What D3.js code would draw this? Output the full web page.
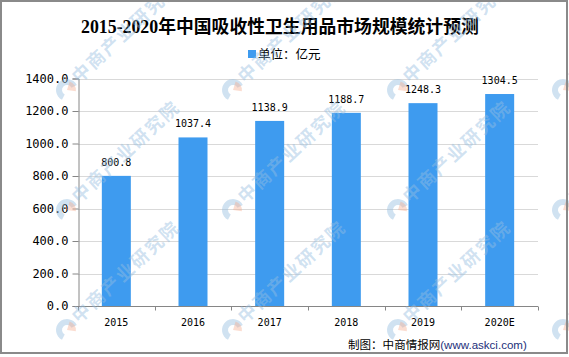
<!DOCTYPE html>
<html><head><meta charset="utf-8">
<script src="https://cdn.jsdelivr.net/npm/d3@7"></script>
<style>html,body{margin:0;padding:0;background:#fff;}svg{display:block;}</style>
</head><body>
<svg id="chart" width="569" height="357"></svg>
<script>
const categories = ["2015", "2016", "2017", "2018", "2019", "2020E"];
const values = [800.8, 1037.4, 1138.9, 1188.7, 1248.3, 1304.5];
const yTicks = [0, 200, 400, 600, 800, 1000, 1200, 1400];
const titleYears = "2015-2020";
const titleRest = "年中国吸收性卫生用品市场规模统计预测";
const legendText = "单位：亿元";
const sourceLabel = "制图：中商情报网";
const sourceUrl = "(www.askci.com)";
const watermarkText = "中商产业研究院";

const svg = d3.select("#chart");
const W = 569, H = 357;
const barColor = "#3E9BEF";

svg.append("rect").attr("x", 0).attr("y", 0).attr("width", W).attr("height", H).attr("fill", "#fff");

const x = d3.scaleBand().domain(categories).range([78, 538]).padding(0);
const y = d3.scaleLinear().domain([0, 1400]).range([306, 78.5]);

// gridlines
svg.append("g").selectAll("line").data(yTicks.filter(d => d > 0)).join("line")
  .attr("x1", 78).attr("x2", 538)
  .attr("y1", d => Math.round(y(d)) + 0.5).attr("y2", d => Math.round(y(d)) + 0.5)
  .attr("stroke", "#d9d9d9").attr("stroke-width", 1);

// bars
const bw = 29;
svg.append("g").selectAll("rect").data(values).join("rect")
  .attr("x", (d, i) => x(categories[i]) + x.bandwidth() / 2 - bw / 2)
  .attr("y", d => y(d))
  .attr("width", bw)
  .attr("height", d => y(0) - y(d))
  .attr("fill", barColor);

// value labels
svg.append("g").selectAll("text").data(values).join("text")
  .attr("x", (d, i) => x(categories[i]) + x.bandwidth() / 2)
  .attr("y", d => y(d) - 10)
  .attr("text-anchor", "middle")
  .attr("font-family", "'DejaVu Sans Mono', monospace")
  .attr("font-size", 10)
  .attr("fill", "#000")
  .text(d => d.toFixed(1));

// y axis
const yAxis = d3.axisLeft(y).tickValues(yTicks).tickSize(6).tickPadding(4).tickFormat(d => d.toFixed(1));
const gy = svg.append("g").attr("transform", "translate(78.5,0)").call(yAxis);
gy.select(".domain").attr("stroke", "#868686");
gy.selectAll(".tick line").attr("stroke", "#868686");
gy.selectAll(".tick text").attr("font-family", "'DejaVu Sans Mono', monospace").attr("font-size", 12).attr("fill", "#000");

// x axis
const xAxis = d3.axisBottom(x).tickSize(0).tickPadding(12);
const gx = svg.append("g").attr("transform", "translate(0,306.5)").call(xAxis);
gx.select(".domain").attr("stroke", "#868686").attr("d", "M78,0H538");
gx.selectAll(".tick text").attr("font-family", "'DejaVu Sans Mono', monospace").attr("font-size", 10).attr("fill", "#000");
const bounds = categories.map(c => x(c)).concat([x.range()[1]]);
gx.append("g").selectAll("line").data(bounds).join("line")
  .attr("x1", d => Math.round(d) + 0.5).attr("x2", d => Math.round(d) + 0.5)
  .attr("y1", 0).attr("y2", 4).attr("stroke", "#868686");

// title (fitted to the reference span 81..479)
const title = svg.append("text").attr("x", 81).attr("y", 33).attr("text-anchor", "start")
  .attr("font-weight", "bold").attr("font-size", 20).attr("fill", "#000");
title.append("tspan").attr("font-family", "'Liberation Serif', serif").text(titleYears);
title.append("tspan").attr("font-family", "'Noto Sans CJK SC', sans-serif").text(titleRest);
{
  const w = title.node().getComputedTextLength();
  if (w > 0) title.attr("font-size", 20 * 398 / w);
}

// legend
svg.append("rect").attr("x", 248).attr("y", 50).attr("width", 8).attr("height", 8).attr("fill", barColor);
svg.append("text").attr("x", 258).attr("y", 59).attr("font-size", 12.5)
  .attr("font-family", "'Noto Sans CJK SC', sans-serif").attr("fill", "#000").text(legendText);

// source
const src = svg.append("text").attr("x", 348).attr("y", 349).attr("text-anchor", "start")
  .attr("font-size", 12.5).attr("font-family", "'Noto Sans CJK SC', sans-serif");
src.append("tspan").attr("fill", "#000").text(sourceLabel);
src.append("tspan").attr("fill", "#1c2f7a").attr("font-family", "'Liberation Sans', sans-serif").text(sourceUrl);
{
  const w = src.node().getComputedTextLength();
  if (w > 0) src.attr("font-size", 12.5 * 179 / w);
}

// watermark
const wmX = [67, 233, 398, 563], wmY = [90, 210, 330];
const wm = svg.append("g").attr("pointer-events", "none");
wmY.forEach(py => wmX.forEach(px => {
  const g = wm.append("g").attr("transform", `translate(${px},${py})`);
  const arcB = d3.arc().innerRadius(5).outerRadius(11).startAngle(Math.PI * 0.15).endAngle(Math.PI * 1.35);
  const arcO = d3.arc().innerRadius(0).outerRadius(9).startAngle(-Math.PI * 0.35).endAngle(Math.PI * 0.1);
  g.append("path").attr("d", arcB()).attr("transform", "rotate(180)").attr("fill", "rgba(150,190,225,0.45)");
  g.append("path").attr("d", arcO()).attr("transform", "rotate(80)").attr("fill", "rgba(245,170,140,0.4)");
  g.append("text").attr("x", 0).attr("y", 0)
    .attr("transform", "translate(12,-6) rotate(-43)")
    .attr("font-family", "'Noto Sans CJK SC', sans-serif").attr("font-weight", "bold")
    .attr("font-size", 18).attr("letter-spacing", 2)
    .attr("fill", "rgba(150,190,225,0.45)").text(watermarkText);
}));

// border
svg.append("rect").attr("x", 1).attr("y", 1).attr("width", 566).attr("height", 352)
  .attr("fill", "none").attr("stroke", "#8a8a8a").attr("stroke-width", 2);
</script>
</body></html>
